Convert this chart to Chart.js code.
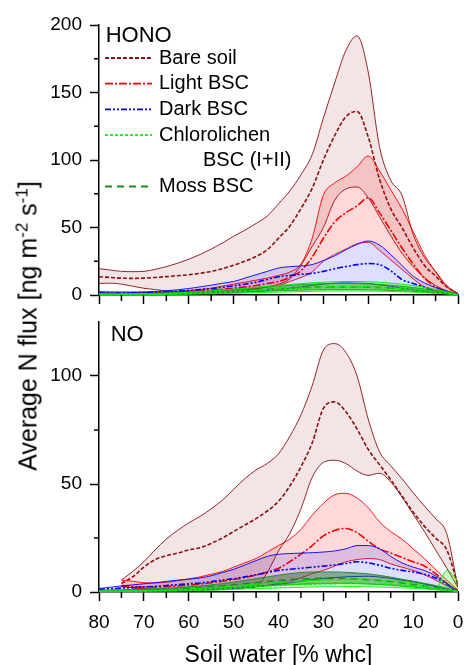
<!DOCTYPE html>
<html>
<head>
<meta charset="utf-8">
<script src="https://cdn.jsdelivr.net/npm/chart.js@4/dist/chart.umd.min.js"></script>
<style>
  html, body { margin: 0; padding: 0; background: #fff; }
  #wrap { position: relative; width: 464px; height: 665px; overflow: hidden; font-family: 'Liberation Sans', Arial, sans-serif; }
  #honoChart { position: absolute; left: 0; top: 0; }
  #noChart { position: absolute; left: 0; top: 310px; }
  #yTitle {
    position: absolute; left: 28px; top: 325.5px;
    transform: translate(-50%, -50%) rotate(-90deg);
    white-space: nowrap; font-size: 25px; line-height: 25px; color: #000;
  }
  #yTitle sup { font-size: 17px; line-height: 0; vertical-align: 9px; }
</style>
</head>
<body>
<div id="wrap">
  <canvas id="honoChart" width="464" height="310"></canvas>
  <canvas id="noChart" width="464" height="355"></canvas>
  <div id="yTitle">Average N flux [ng m<sup>-2</sup> s<sup>-1</sup>]</div>
</div>
<script>
// soil water content, % whc (x axis, shared by both panels)
const soilWater = [80, 77.5, 75, 72.5, 70, 67.5, 65, 62.5, 60, 57.5, 55, 52.5, 50, 47.5, 45, 42.5,
  40, 37.5, 35, 32.5, 30, 27.5, 25, 22.5, 20, 17.5, 15, 12.5, 10, 7.5, 5, 2.5, 0];

const categories = ["Bare soil", "Light BSC", "Dark BSC", "Chlorolichen BSC (I+II)", "Moss BSC"];

// ---- HONO panel ----
const honoBareUpper = [19.5, 18.5, 17.5, 17.3, 17.5, 19, 21, 23.5, 26.5, 30, 34, 38.5, 43.5, 48, 53, 58.5,
  67.5, 77, 89, 104, 131, 157, 181, 192, 165, 110, 85, 74, 45, 28, 17.5, 7, 1];
const honoBareMean = [13.5, 13, 12.5, 12.3, 12.5, 13, 13.6, 14.3, 15, 16, 17.5, 19.5, 22, 25, 28.5, 33.5,
  42, 51, 64, 79, 100, 118, 132, 136, 117, 86, 64, 50, 35, 22, 14, 6, 1];
const honoBareLower = [8.5, 8.8, 8, 6.5, 5, 4, 3, 2.3, 2, 2, 2, 2.3, 2.8, 3.5, 4.5, 6,
  8, 12, 22, 36, 50, 70, 78.5, 80, 72, 58, 44, 31, 21, 13, 7, 3, 0.5];

const honoLightUpper = [1.5, 1.5, 1.5, 1.6, 1.8, 2, 2.3, 2.7, 3.2, 4, 5, 6.5, 8, 9.5, 11, 12.5,
  14.5, 17, 23, 42, 74, 83, 88, 95, 103, 92, 78, 64, 47, 30, 17, 6, 1];
const honoLightMean = [1, 1, 1, 1.1, 1.3, 1.5, 1.8, 2.2, 2.6, 3, 3.5, 4.2, 5, 6, 7, 8.5,
  10, 13, 18, 28, 42, 54, 61, 66, 72, 61, 48, 35, 23, 12.5, 6, 2.5, 0.5];
const honoLightLower = [0.3, 0.3, 0.4, 0.5, 0.6, 0.8, 1, 1.2, 1.5, 1.8, 2.2, 2.7, 3.2, 4, 4.8, 5.8,
  7, 10, 13, 17, 25, 30, 34, 38, 39, 33, 26, 19, 12, 6, 3, 1, 0.3];

const honoDarkUpper = [2.5, 2.3, 2.2, 2.2, 2.3, 2.6, 3.1, 3.9, 4.8, 6, 7.3, 8.7, 10, 12.5, 15, 17.5,
  20, 21, 21.5, 22.5, 25.5, 29, 33.5, 37.5, 40, 37, 30, 22, 14, 9, 5.5, 3, 0.5];
const honoDarkMean = [1.5, 1.5, 1.5, 1.6, 1.8, 2, 2.4, 2.8, 3.3, 4, 4.8, 5.7, 6.8, 8, 9.5, 11.5,
  13.5, 14.5, 15.3, 16, 17.5, 19.5, 21, 22.5, 23.3, 22.5, 18, 11.5, 8.5, 6, 3.2, 1.5, 0.3];
const honoDarkLower = [0.5, 0.5, 0.5, 0.5, 0.6, 0.7, 0.8, 0.9, 1, 1.2, 1.4, 1.6, 1.9, 2.2, 2.6, 3.2,
  4, 5, 6, 7, 8, 8.8, 9, 8.8, 8.5, 7.5, 6.5, 5, 4, 3, 2, 1, 0.2];

const honoChloroUpper = [0.8, 0.8, 0.9, 1, 1.1, 1.2, 1.4, 1.7, 2, 2.5, 3, 3.6, 4.3, 5, 5.7, 6.4,
  7.1, 7.8, 8.4, 9, 9.5, 9.8, 10, 10, 9.8, 9.4, 8.8, 8, 7, 5.7, 4.2, 2.5, 0.5];
const honoChloroMean = [0.5, 0.5, 0.5, 0.6, 0.7, 0.7, 0.8, 1, 1.2, 1.5, 1.8, 2.2, 2.6, 3, 3.4, 3.8,
  4.3, 4.7, 5, 5.4, 5.7, 5.9, 6, 6, 5.9, 5.6, 5.3, 4.8, 4.2, 3.4, 2.5, 1.5, 0.3];
const honoChloroLower = [0.2, 0.2, 0.3, 0.3, 0.3, 0.4, 0.4, 0.5, 0.6, 0.8, 0.9, 1.1, 1.3, 1.5, 1.7, 1.9,
  2.1, 2.3, 2.5, 2.7, 2.9, 2.9, 3, 3, 2.9, 2.8, 2.6, 2.4, 2.1, 1.7, 1.3, 0.8, 0.2];

const honoMossUpper = [0.7, 0.7, 0.8, 0.9, 1, 1.1, 1.3, 1.6, 2, 2.5, 3, 3.6, 4.2, 4.9, 5.5, 6.1,
  6.7, 7.2, 7.7, 8.1, 8.4, 8.5, 8.5, 8.4, 8.2, 7.8, 7.2, 6.5, 5.6, 4.5, 3.3, 2, 0.4];
const honoMossMean = [0.5, 0.5, 0.6, 0.6, 0.7, 0.8, 0.9, 1.1, 1.4, 1.7, 2.1, 2.5, 3, 3.4, 3.9, 4.3,
  4.7, 5.1, 5.4, 5.7, 5.9, 6, 6, 5.9, 5.8, 5.5, 5.1, 4.6, 4, 3.2, 2.3, 1.4, 0.3];
const honoMossLower = [0.3, 0.3, 0.4, 0.4, 0.5, 0.5, 0.6, 0.7, 0.9, 1.1, 1.4, 1.7, 2, 2.3, 2.6, 2.9,
  3.1, 3.4, 3.6, 3.8, 3.9, 4, 4, 3.9, 3.8, 3.7, 3.4, 3.1, 2.7, 2.1, 1.5, 0.9, 0.2];

// ---- NO panel ----
const noBareUpper = [null, null, 5.5, 9.5, 14, 19.5, 24.5, 28.5, 32, 35, 38.5, 42.5, 47.5, 52.5, 56.5, 59.5,
  64, 72, 82, 95.5, 112, 115, 111, 100, 80, 65, 58.5, 52.5, 46, 39.8, 34, 27, 2];
const noBareMean = [null, null, 4, 7, 11.5, 15, 16.8, 18, 19.5, 20.5, 22.5, 25, 28, 31, 34, 37.5,
  42, 49, 58, 69, 85, 88, 83.5, 75.5, 66, 59, 52, 44.5, 37, 30.5, 25, 19.5, 3];
const noBareLower = [null, null, 2.5, 2, 1.5, 1.2, 1, 1, 1, 1, 1, 1.2, 1.5, 2, 2.5, 9,
  19, 27, 38.5, 53, 60, 61, 59.5, 56, 54, 55, 51, 44, 36, 28, 19.5, 11, 2];

const noLightUpper = [null, null, 5.5, 5, 4.3, 4.2, 4.5, 5.2, 6, 7, 8.2, 9.5, 11.5, 13.5, 15.5, 18.5,
  21.5, 24.5, 29, 35.5, 41, 45, 45.7, 43.5, 39, 32.5, 28, 24.5, 20, 15.5, 10.5, 5.5, 1];
const noLightMean = [null, null, 3, 2.5, 2.3, 2.3, 2.5, 2.8, 3.2, 3.7, 4.3, 5, 5.8, 6.7, 7.8, 9.2,
  11, 14, 17.5, 21.5, 26, 28.5, 29.4, 27.5, 23.5, 20, 18, 16, 14, 12, 8.5, 4, 0.5];
const noLightLower = [null, null, 2.5, 2, 1.5, 1.2, 1, 1, 1, 1.1, 1.2, 1.4, 1.7, 2, 2.4, 3,
  4, 5, 6.5, 8.5, 10, 12, 14, 15, 15.5, 15, 13, 11.5, 10, 8, 5.5, 2.8, 0.3];

const noDarkUpper = [1.6, 2.2, 2.8, 3.3, 3.8, 4.3, 4.9, 5.5, 6, 6.5, 7.5, 9, 10.5, 12.5, 14.5, 16.5,
  17.5, 17.8, 18, 18.2, 18.5, 19, 20, 21.5, 21.5, 20, 16.5, 13.5, 11.5, 10, 7.5, 4, 0.3];
const noDarkMean = [1.3, 1.5, 1.8, 2, 2.3, 2.6, 3, 3.4, 3.8, 4.2, 4.8, 5.5, 6.2, 7, 8, 9,
  10, 10.5, 11, 11.5, 12, 12.5, 13.2, 14, 13.5, 12.4, 11, 10, 9.3, 8.2, 6.5, 3.5, 0.3];
const noDarkLower = [0.3, 0.4, 0.4, 0.5, 0.6, 0.7, 0.8, 0.9, 1, 1.1, 1.3, 1.4, 1.5, 1.9, 2.5, 3,
  3.5, 4.2, 5, 5.7, 6.3, 6.7, 7, 7.2, 7.3, 6.9, 6.3, 5.5, 4.8, 3.7, 2.5, 1.3, 0.2];

const noChloroUpper = [0.5, 0.5, 0.6, 0.7, 0.8, 0.9, 1, 1.2, 1.4, 1.7, 2, 2.4, 2.8, 3.2, 3.6, 4,
  4.4, 4.8, 5.1, 5.4, 5.6, 5.8, 5.9, 6, 5.9, 5.6, 5.2, 4.7, 4.1, 3.4, 1.2, 10, 5];
const noChloroMean = [0.3, 0.3, 0.4, 0.4, 0.5, 0.6, 0.7, 0.8, 1, 1.2, 1.4, 1.6, 1.9, 2.2, 2.5, 2.8,
  3, 3.3, 3.5, 3.7, 3.8, 3.9, 4, 4, 3.9, 3.7, 3.4, 3.1, 2.7, 2.2, 1.6, 1, 0.3];
const noChloroLower = [0.2, 0.2, 0.2, 0.3, 0.3, 0.4, 0.4, 0.5, 0.6, 0.7, 0.8, 1, 1.2, 1.4, 1.6, 1.7,
  1.9, 2, 2.2, 2.3, 2.4, 2.4, 2.5, 2.5, 2.4, 2.3, 2.1, 1.9, 1.7, 1.4, 1, 0.6, 0.2];

const noMossUpper = [0.8, 0.9, 1, 1.1, 1.3, 1.5, 1.7, 2, 2.4, 2.8, 3.3, 3.9, 4.6, 5.4, 6.2, 7,
  7.8, 8.5, 9, 9.3, 9.3, 9.3, 9.1, 8.8, 8.4, 7.7, 6.9, 5.9, 5, 4, 3, 1.8, 0.5];
const noMossMean = [0.5, 0.6, 0.7, 0.8, 0.9, 1, 1.2, 1.4, 1.7, 2, 2.4, 2.8, 3.3, 3.8, 4.3, 4.8,
  5.3, 5.7, 6, 6.2, 6.3, 6.3, 6.2, 6, 5.7, 5.3, 4.8, 4.2, 3.5, 2.8, 2, 1.2, 0.3];
const noMossLower = [0.3, 0.3, 0.4, 0.4, 0.5, 0.6, 0.7, 0.8, 1, 1.2, 1.4, 1.7, 2, 2.3, 2.6, 2.9,
  3.2, 3.4, 3.6, 3.8, 3.9, 4, 4, 3.9, 3.7, 3.4, 3.1, 2.7, 2.3, 1.8, 1.3, 0.8, 0.2];

// tick positions
const xMinorTicks = [75, 65, 55, 45, 35, 25, 15, 5];
const honoYMinorTicks = [25, 75, 125, 175];
const noYMinorTicks = [25, 75];

// line colours, band fills and dash patterns of the mean lines
const styles = [
  { line: "#8b1010", fill: "rgba(139, 0, 0, 0.10)", dash: [4, 2] },          // Bare soil
  { line: "#ff0000", fill: "rgba(255, 0, 0, 0.15)", dash: [8, 2, 2, 2] },    // Light BSC
  { line: "#0000ff", fill: "rgba(0, 0, 255, 0.13)", dash: [6, 2, 2, 2, 2, 2] }, // Dark BSC
  { line: "#00ee00", fill: "rgba(0, 255, 0, 0.22)", dash: [3, 2] },          // Chlorolichen
  { line: "#1a8a1a", fill: "rgba(30, 100, 30, 0.45)", dash: [7, 5] },        // Moss
];

const FONT = "'Liberation Sans', Arial, sans-serif";
Chart.defaults.font.family = FONT;
Chart.defaults.color = "#000";

function toPoints(values) {
  return soilWater.map((x, i) => ({ x: x, y: values[i] }));
}

// builds mean / upper / lower datasets per category, bare soil last so it is drawn at the back
function buildDatasets(groups) {
  const datasets = [];
  const drawOrder = [3, 4, 2, 1, 0];
  drawOrder.forEach((k) => {
    const g = groups[k];
    const s = styles[k];
    const lowerIndex = datasets.length + 2;
    datasets.push({
      label: categories[k] + " mean",
      data: toPoints(g.mean),
      borderColor: s.line,
      borderWidth: 1.6,
      borderDash: s.dash,
      fill: false,
    });
    datasets.push({
      label: categories[k] + " upper",
      data: toPoints(g.upper),
      borderColor: s.line,
      borderWidth: 0.9,
      fill: { target: lowerIndex, above: s.fill, below: s.fill },
    });
    datasets.push({
      label: categories[k] + " lower",
      data: toPoints(g.lower),
      borderColor: s.line,
      borderWidth: 0.9,
      fill: false,
    });
  });
  return datasets;
}

const minorTicksPlugin = {
  id: "minorTicks",
  afterDraw(chart, args, opts) {
    const { ctx, chartArea, scales } = chart;
    ctx.save();
    ctx.strokeStyle = "#000";
    ctx.lineWidth = 1.5;
    ctx.beginPath();
    (opts.x || []).forEach((v) => {
      const px = scales.x.getPixelForValue(v);
      ctx.moveTo(px, chartArea.bottom);
      ctx.lineTo(px, chartArea.bottom + 6);
    });
    (opts.y || []).forEach((v) => {
      const py = scales.y.getPixelForValue(v);
      ctx.moveTo(chartArea.left - 5, py);
      ctx.lineTo(chartArea.left, py);
    });
    ctx.stroke();
    ctx.restore();
  },
};

const panelTextPlugin = {
  id: "panelText",
  afterDraw(chart, args, opts) {
    const ctx = chart.ctx;
    ctx.save();
    ctx.fillStyle = "#000";
    ctx.textAlign = "left";
    ctx.textBaseline = "middle";
    ctx.font = "22px " + FONT;
    ctx.fillText(opts.title, opts.titleX, opts.titleY);

    if (opts.legend) {
      const rowY = (r) => 58 + r * 25.7;
      const rows = [0, 1, 2, 3, 5];
      ctx.font = "20px " + FONT;
      rows.forEach((r, k) => {
        const y = rowY(r);
        ctx.save();
        ctx.strokeStyle = styles[k].line;
        ctx.lineWidth = 1.8;
        ctx.setLineDash(styles[k].dash);
        ctx.beginPath();
        ctx.moveTo(105, y);
        ctx.lineTo(152, y);
        ctx.stroke();
        ctx.restore();
        const text = k === 3 ? "Chlorolichen" : categories[k];
        ctx.fillText(text, 159, y);
      });
      ctx.fillText("BSC (I+II)", 203, rowY(4));
    }
    ctx.restore();
  },
};

function axisStyle() {
  return {
    grid: { display: true, drawOnChartArea: false, drawTicks: true, tickLength: 9, tickColor: "#000", tickWidth: 1.5 },
    border: { display: true, color: "#000", width: 1.5 },
  };
}

function makeChart(id, groups, cfg) {
  const ctx = document.getElementById(id).getContext("2d");
  return new Chart(ctx, {
    type: "line",
    data: { datasets: buildDatasets(groups) },
    options: {
      responsive: false,
      animation: false,
      devicePixelRatio: 1,
      layout: { padding: cfg.padding },
      elements: {
        point: { radius: 0, hoverRadius: 0 },
        line: { cubicInterpolationMode: "monotone" },
      },
      plugins: {
        legend: { display: false },
        tooltip: { enabled: false },
        minorTicks: { x: xMinorTicks, y: cfg.yMinor },
        panelText: cfg.text,
      },
      scales: {
        x: {
          type: "linear",
          reverse: true,
          min: 0,
          max: 80,
          ticks: { display: cfg.showX, stepSize: 10, padding: 10, font: { size: 19 } },
          title: {
            display: cfg.showX,
            text: "Soil water [% whc]",
            font: { size: 23, lineHeight: 1 },
            padding: { top: 0, bottom: -2 },
          },
          ...axisStyle(),
          afterFit: (scale) => {
            scale.height = cfg.xHeight;
            scale.paddingLeft = 0;
            scale.paddingRight = 0;
          },
        },
        y: {
          min: 0,
          max: cfg.yMax,
          ticks: { stepSize: 50, padding: 8, includeBounds: false, font: { size: 19 } },
          ...axisStyle(),
          afterFit: (scale) => {
            scale.width = 99;
            scale.paddingTop = 0;
            scale.paddingBottom = 0;
          },
        },
      },
    },
    plugins: [minorTicksPlugin, panelTextPlugin],
  });
}

makeChart("honoChart", [
  { upper: honoBareUpper, mean: honoBareMean, lower: honoBareLower },
  { upper: honoLightUpper, mean: honoLightMean, lower: honoLightLower },
  { upper: honoDarkUpper, mean: honoDarkMean, lower: honoDarkLower },
  { upper: honoChloroUpper, mean: honoChloroMean, lower: honoChloroLower },
  { upper: honoMossUpper, mean: honoMossMean, lower: honoMossLower },
], {
  padding: { top: 25, right: 6, left: 0, bottom: 0 },
  yMax: 200,
  yMinor: honoYMinorTicks,
  showX: false,
  xHeight: 15,
  text: { title: "HONO", titleX: 105.7, titleY: 36, legend: true },
});

makeChart("noChart", [
  { upper: noBareUpper, mean: noBareMean, lower: noBareLower },
  { upper: noLightUpper, mean: noLightMean, lower: noLightLower },
  { upper: noDarkUpper, mean: noDarkMean, lower: noDarkLower },
  { upper: noChloroUpper, mean: noChloroMean, lower: noChloroLower },
  { upper: noMossUpper, mean: noMossMean, lower: noMossLower },
], {
  padding: { top: 12, right: 6, left: 0, bottom: 0 },
  yMax: 125,
  yMinor: noYMinorTicks,
  showX: true,
  xHeight: 73,
  text: { title: "NO", titleX: 110.7, titleY: 24.5, legend: false },
});
</script>
</body>
</html>
